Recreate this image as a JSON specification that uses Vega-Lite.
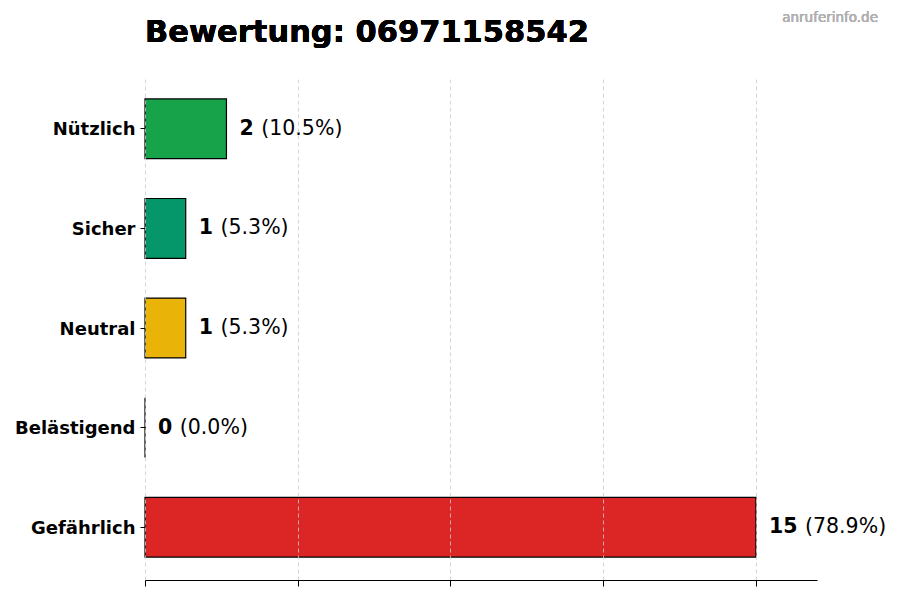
{
  "$schema": "https://vega.github.io/schema/vega-lite/v6.json",
  "width": 672,
  "height": 504,
  "autosize": {"type": "none"},
  "padding": {"left": 145, "top": 76, "right": 83, "bottom": 20},
  "background": "white",
  "config": {
    "view": {"stroke": null},
    "font": "DejaVu Sans"
  },
  "data": {
    "values": [
      {"category": "Nützlich", "count": 2, "pct": "(10.5%)"},
      {"category": "Sicher", "count": 1, "pct": "(5.3%)"},
      {"category": "Neutral", "count": 1, "pct": "(5.3%)"},
      {"category": "Belästigend", "count": 0, "pct": "(0.0%)"},
      {"category": "Gefährlich", "count": 15, "pct": "(78.9%)"}
    ]
  },
  "encoding": {
    "y": {
      "field": "category",
      "type": "nominal",
      "sort": null,
      "scale": {"paddingInner": 0.4, "paddingOuter": 0.23},
      "axis": {
        "title": null,
        "domain": false,
        "ticks": true,
        "tickColor": "black",
        "tickSize": 5,
        "labelPadding": 5,
        "labelFont": "DejaVu Sans",
        "labelFontSize": 18,
        "labelFontWeight": "bold",
        "labelColor": "black",
        "labelBaseline": "middle",
        "labelOffset": 1.5
      }
    }
  },
  "layer": [
    {
      "mark": {"type": "bar", "stroke": "black", "strokeWidth": 1.2},
      "encoding": {
        "x": {
          "field": "count",
          "type": "quantitative",
          "scale": {"domain": [0, 16.5], "nice": false},
          "axis": {
            "title": null,
            "values": [0, 3.75, 7.5, 11.25, 15],
            "labels": false,
            "domain": true,
            "domainColor": "black",
            "domainWidth": 1,
            "ticks": true,
            "tickColor": "black",
            "tickSize": 6,
            "grid": true,
            "gridColor": "#cccccc",
            "gridDash": [4, 3],
            "gridWidth": 0.8,
            "zindex": 1
          }
        },
        "color": {
          "field": "category",
          "type": "nominal",
          "legend": null,
          "scale": {
            "domain": ["Nützlich", "Sicher", "Neutral", "Belästigend", "Gefährlich"],
            "range": ["#16a34a", "#059669", "#eab308", "#f97316", "#dc2626"]
          }
        }
      }
    },
    {
      "mark": {"type": "text", "align": "left", "baseline": "middle", "dx": 13, "fontSize": 20.5, "fontWeight": "bold", "color": "black"},
      "encoding": {
        "x": {"field": "count", "type": "quantitative"},
        "text": {"field": "count", "type": "quantitative"}
      }
    },
    {
      "mark": {"type": "text", "align": "left", "baseline": "middle", "dx": {"expr": "20.5 + 14.3 * length(toString(datum.count))"}, "fontSize": 20.5, "color": "black"},
      "encoding": {
        "x": {"field": "count", "type": "quantitative"},
        "text": {"field": "pct", "type": "nominal"}
      }
    },
    {
      "mark": {"type": "text", "align": "left", "baseline": "alphabetic", "dy": -87, "fontSize": 30.5, "fontWeight": "bold", "color": "black"},
      "encoding": {
        "x": {"datum": 0},
        "y": {"datum": "Nützlich"},
        "text": {"value": "Bewertung: 06971158542"}
      }
    },
    {
      "mark": {"type": "text", "align": "right", "baseline": "middle", "dx": 61, "dy": -111, "fontSize": 13.5, "fontWeight": "normal", "color": "#b0b0b0"},
      "encoding": {
        "x": {"datum": 16.5},
        "y": {"datum": "Nützlich"},
        "text": {"value": "anruferinfo.de"}
      }
    }
  ]
}
